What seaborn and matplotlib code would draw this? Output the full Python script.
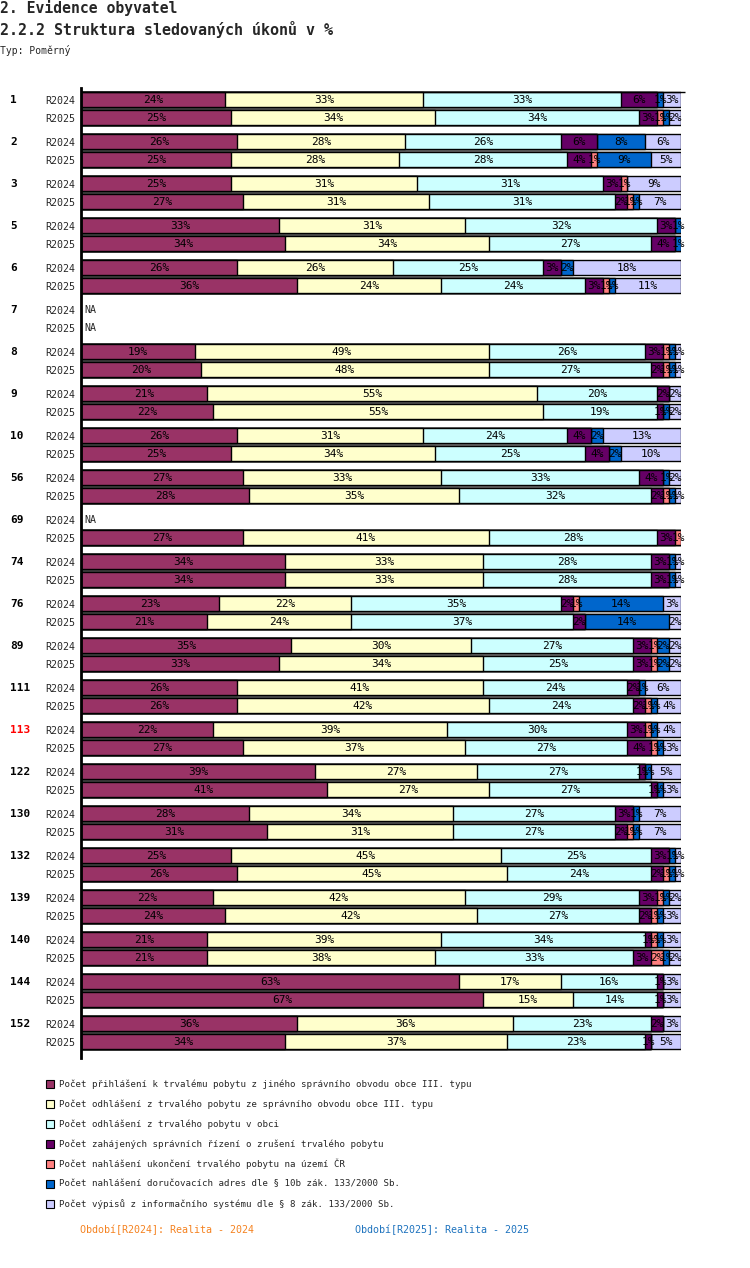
import matplotlib
matplotlib.use("Agg")
import matplotlib.pyplot as plt
from matplotlib.patches import Rectangle
import seaborn as sns
import numpy as np
import pandas as pd

NA = np.nan

groups = ['1', '2', '3', '5', '6', '7', '8', '9', '10', '56', '69', '74', '76',
          '89', '111', '113', '122', '130', '132', '139', '140', '144', '152']
periods = ['R2024', 'R2025']
highlight_group = '113'

categories = [
    "Počet přihlášení k trvalému pobytu z jiného správního obvodu obce III. typu",
    "Počet odhlášení z trvalého pobytu ze správního obvodu obce III. typu",
    "Počet odhlášení z trvalého pobytu v obci",
    "Počet zahájených správních řízení o zrušení trvalého pobytu",
    "Počet nahlášení ukončení trvalého pobytu na území ČR",
    "Počet nahlášení doručovacích adres dle § 10b zák. 133/2000 Sb.",
    "Počet výpisů z informačního systému dle § 8 zák. 133/2000 Sb.",
]
colors = ['#993366', '#FFFFCC', '#CCFFFF', '#660066', '#FF8080', '#0066CC', '#CCCCFF']

# values in %, per group: R2024, R2025
prihlaseni = [24, 25, 26, 25, 25, 27, 33, 34, 26, 36, NA, NA, 19, 20, 21, 22, 26, 25, 27, 28,
              NA, 27, 34, 34, 23, 21, 35, 33, 26, 26, 22, 27, 39, 41, 28, 31, 25, 26, 22, 24,
              21, 21, 63, 67, 36, 34]
odhlaseni_obvod = [33, 34, 28, 28, 31, 31, 31, 34, 26, 24, NA, NA, 49, 48, 55, 55, 31, 34, 33, 35,
                   NA, 41, 33, 33, 22, 24, 30, 34, 41, 42, 39, 37, 27, 27, 34, 31, 45, 45, 42, 42,
                   39, 38, 17, 15, 36, 37]
odhlaseni_obec = [33, 34, 26, 28, 31, 31, 32, 27, 25, 24, NA, NA, 26, 27, 20, 19, 24, 25, 33, 32,
                  NA, 28, 28, 28, 35, 37, 27, 25, 24, 24, 30, 27, 27, 27, 27, 27, 25, 24, 29, 27,
                  34, 33, 16, 14, 23, 23]
rizeni_zruseni = [6, 3, 6, 4, 3, 2, 3, 4, 3, 3, NA, NA, 3, 2, 2, 1, 4, 4, 4, 2,
                  NA, 3, 3, 3, 2, 2, 3, 3, 2, 2, 3, 4, 1, 1, 3, 2, 3, 2, 3, 2,
                  1, 3, 1, 1, 2, 1]
ukonceni_cr = [0, 1, 0, 1, 1, 1, 0, 0, 0, 1, NA, NA, 1, 1, 0, 0, 0, 0, 0, 1,
               NA, 1, 0, 0, 1, 0, 1, 1, 0, 1, 1, 1, 0, 0, 0, 1, 0, 1, 1, 1,
               1, 2, 0, 0, 0, 0]
dorucovaci_adresy = [1, 1, 8, 9, 0, 1, 1, 1, 2, 1, NA, NA, 1, 1, 0, 1, 2, 2, 1, 1,
                     NA, 0, 1, 1, 14, 14, 2, 2, 1, 1, 1, 1, 1, 1, 1, 1, 1, 1, 1, 1,
                     1, 1, 0, 0, 0, 0]
vypisy = [3, 2, 6, 5, 9, 7, 0, 0, 18, 11, NA, NA, 1, 1, 2, 2, 13, 10, 2, 1,
          NA, 0, 1, 1, 3, 2, 2, 2, 6, 4, 4, 3, 5, 3, 7, 7, 1, 1, 2, 3,
          3, 2, 3, 3, 3, 5]

series = [prihlaseni, odhlaseni_obvod, odhlaseni_obec, rizeni_zruseni,
          ukonceni_cr, dorucovaci_adresy, vypisy]

# ---- layout (pixels, top-down) ----
W, H = 750, 1268
ROW_TOP, GROUP_STEP, ROW_STEP = 100, 42, 18
BAR_H = 15

rows = []
for gi, g in enumerate(groups):
    for pi, p in enumerate(periods):
        rows.append((g, p, ROW_TOP + gi * GROUP_STEP + pi * ROW_STEP))
ypos = np.array([r[2] for r in rows])

vals = np.array(series, dtype=float)          # shape (7, 46)
cums = np.cumsum(vals, axis=0)
valid = ~np.isnan(vals[0])

long = pd.DataFrame({
    'ypos': np.tile(ypos, len(categories)),
    'kat': np.repeat(np.arange(len(categories)), len(ypos)),
    'cum': cums.ravel(),
}).dropna()

sns.set_style('white')
plt.rcParams['font.family'] = ['DejaVu Sans Mono', 'DejaVu Sans']

fig = plt.figure(figsize=(W / 100, H / 100), dpi=100)
ax = fig.add_axes([81 / W, 1 - 1058 / H, 600 / W, (1058 - 88) / H])

# stacked bars: draw cumulative totals from the widest down
for k in reversed(range(len(categories))):
    sub = long[long['kat'] == k]
    sns.barplot(data=sub, x='cum', y='ypos', orient='y', native_scale=True,
                color=colors[k], saturation=1, width=BAR_H / ROW_STEP,
                edgecolor='black', linewidth=1, errorbar=None, ax=ax)

ax.set_xlim(0, 100)
ax.set_ylim(1058, 88)

# segment labels (each one hidden behind the next segment, like the original)
for j, y in enumerate(ypos):
    if not valid[j]:
        ax.text(0.5, y, 'NA', ha='left', va='center', fontsize=7.2)
        continue
    last = max(k for k in range(len(categories)) if vals[k, j] > 0)
    for k in range(len(categories)):
        v = vals[k, j]
        if v <= 0:
            continue
        left = cums[k, j] - v
        t = ax.text(left + v / 2, y, f"{int(v)}%", ha='center', va='center',
                    fontsize=8, color='black')
        if k != last:
            clip = Rectangle((0, y - BAR_H / 2), cums[k, j], BAR_H, transform=ax.transData)
            t.set_clip_path(clip)

# axes cosmetics
for s in ['top', 'right', 'bottom']:
    ax.spines[s].set_visible(False)
ax.spines['left'].set_linewidth(2)
ax.spines['left'].set_color('black')
ax.set_xticks([])
ax.set_yticks(ypos)
ax.set_yticklabels([r[1] for r in rows], fontsize=7.2)
ax.tick_params(axis='y', length=0, pad=4)
ax.set_xlabel('')
ax.set_ylabel('')
ax.hlines(92, 0, 100.7, color='black', lw=1, clip_on=False)

for gi, g in enumerate(groups):
    ax.annotate(g, xy=(10, ROW_TOP + gi * GROUP_STEP), xycoords=('figure pixels', 'data'),
                ha='left', va='center', fontsize=8, fontweight='bold',
                color='red' if g == highlight_group else 'black')

# titles
fig.text(0, 1 - 8 / H, '2. Evidence obyvatel', fontsize=10.6, fontweight='bold', va='center')
fig.text(0, 1 - 30 / H, '2.2.2 Struktura sledovaných úkonů v %', fontsize=10.8,
         fontweight='bold', va='center')
fig.text(0, 1 - 51 / H, 'Typ: Poměrný', fontsize=7, va='center')

# legend
for k, lab in enumerate(categories):
    yc = 1084 + k * 20
    fig.add_artist(Rectangle((46 / W, 1 - (yc + 4) / H), 8 / W, 8 / H,
                             facecolor=colors[k], edgecolor='black', lw=0.8,
                             transform=fig.transFigure))
    fig.text(59 / W, 1 - yc / H, lab, fontsize=6.6, va='center')

fig.text(80 / W, 1 - 1230 / H, 'Období[R2024]: Realita - 2024', fontsize=7.2,
         color='#F58220', va='center')
fig.text(355 / W, 1 - 1230 / H, 'Období[R2025]: Realita - 2025', fontsize=7.2,
         color='#1E73BE', va='center')

fig.savefig('out.png', dpi=100)
